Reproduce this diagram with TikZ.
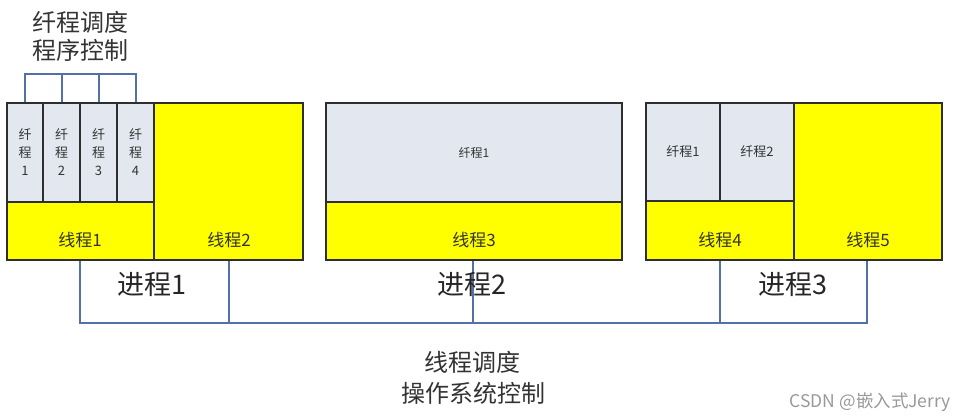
\documentclass[tikz,border=0pt]{standalone}
\usepackage{fontspec}
\setmainfont{Liberation Sans}
\newfontfamily\cjk{Noto Sans CJK SC}
\definecolor{fibfill}{HTML}{E3E7EF}
\definecolor{thryel}{HTML}{FFFF00}
\definecolor{edge}{HTML}{2E2E2E}
\definecolor{linkblue}{HTML}{5470A8}
\definecolor{txt}{HTML}{333333}
\tikzset{
  box/.style={draw=edge, line width=1.5pt, anchor=north west, inner sep=0pt, outer sep=0pt},
  fib/.style={box, fill=fibfill, text=txt, align=center, font=\cjk\fontsize{13}{18}\selectfont},
  thr/.style={box, fill=thryel},
  thrlabel/.style={text=txt, font=\cjk\fontsize{17}{20}\selectfont, inner sep=0pt},
  proclabel/.style={text=black!85, font=\cjk\fontsize{27}{30}\selectfont, inner sep=0pt},
  caption/.style={text=txt, font=\cjk\fontsize{24}{26}\selectfont, inner sep=0pt},
  conn/.style={draw=linkblue, line width=2.3pt, line join=miter}
}
\begin{document}
\begin{tikzpicture}[x=1pt,y=-1pt]
\useasboundingbox (0,0) rectangle (955,416);
% connectors (behind boxes)
\coordinate (b1) at (80,323);
\coordinate (b2) at (229,323);
\coordinate (b3) at (473,323);
\coordinate (b4) at (720,323);
\coordinate (b5) at (867,323);
\coordinate (s1) at (80,260);
\coordinate (s2) at (229,260);
\coordinate (s3) at (473,260);
\coordinate (s4) at (720,260);
\coordinate (s5) at (867,260);
\draw[conn] (s1) -- (b1) -- (b5) -- (s5);
\draw[conn] (s2) -- (b2);
\draw[conn] (s3) -- (b3);
\draw[conn] (s4) -- (b4);
% fiber bracket
\coordinate (k1) at (25,74);
\coordinate (k4) at (136,74);
\draw[conn] (25,103) -- (k1) -- (k4) -- (136,103);
\draw[conn] (62,74) -- (62,103);
\draw[conn] (99,74) -- (99,103);
% process 1
\node[thr, minimum width=149pt, minimum height=157pt] (t2) at (154,103) {};
\node[thr, minimum width=147pt, minimum height=58pt] (t1) at (7,202) {};
\node[fib, minimum width=36pt, minimum height=99pt] (pf1) at (7,103) {纤\\程\\1};
\node[fib, minimum width=37pt, minimum height=99pt] (pf2) at (43,103) {纤\\程\\2};
\node[fib, minimum width=37pt, minimum height=99pt] (pf3) at (80,103) {纤\\程\\3};
\node[fib, minimum width=37pt, minimum height=99pt] (pf4) at (117,103) {纤\\程\\4};
\node[thrlabel] (lt1) at (80,240) {线程1};
\node[thrlabel] (lt2) at (229,240) {线程2};
% process 2
\node[fib, minimum width=296pt, minimum height=99pt, font=\cjk\fontsize{12}{14}\selectfont] (qf1) at (326,103) {纤程1};
\node[thr, minimum width=296pt, minimum height=58pt] (t3) at (326,202) {};
\node[thrlabel] (lt3) at (474,240) {线程3};
% process 3
\node[thr, minimum width=148pt, minimum height=157pt] (t5) at (794,103) {};
\node[thr, minimum width=148pt, minimum height=59pt] (t4) at (646,201) {};
\node[fib, minimum width=74pt, minimum height=98pt, font=\cjk\fontsize{13}{14}\selectfont] (rf1) at (646,103) {纤程1};
\node[fib, minimum width=74pt, minimum height=98pt, font=\cjk\fontsize{13}{14}\selectfont] (rf2) at (720,103) {纤程2};
\node[thrlabel] (lt4) at (720,240) {线程4};
\node[thrlabel] (lt5) at (868,240) {线程5};
% process labels
\node[proclabel] (p1) at (152,284) {进程1};
\node[proclabel] (p2) at (472,284) {进程2};
\node[proclabel] (p3) at (793,284) {进程3};
% captions
\node[caption] (c1) at (80,22) {纤程调度};
\node[caption] (c2) at (80,50) {程序控制};
\node[caption] (c3) at (472,362) {线程调度};
\node[caption] (c4) at (473,393) {操作系统控制};
\node[text=black!40, font=\cjk\fontsize{17.5}{19}\selectfont, inner sep=0pt, anchor=east] (wm) at (951,402) {CSDN @嵌入式Jerry};
\end{tikzpicture}
\end{document}
